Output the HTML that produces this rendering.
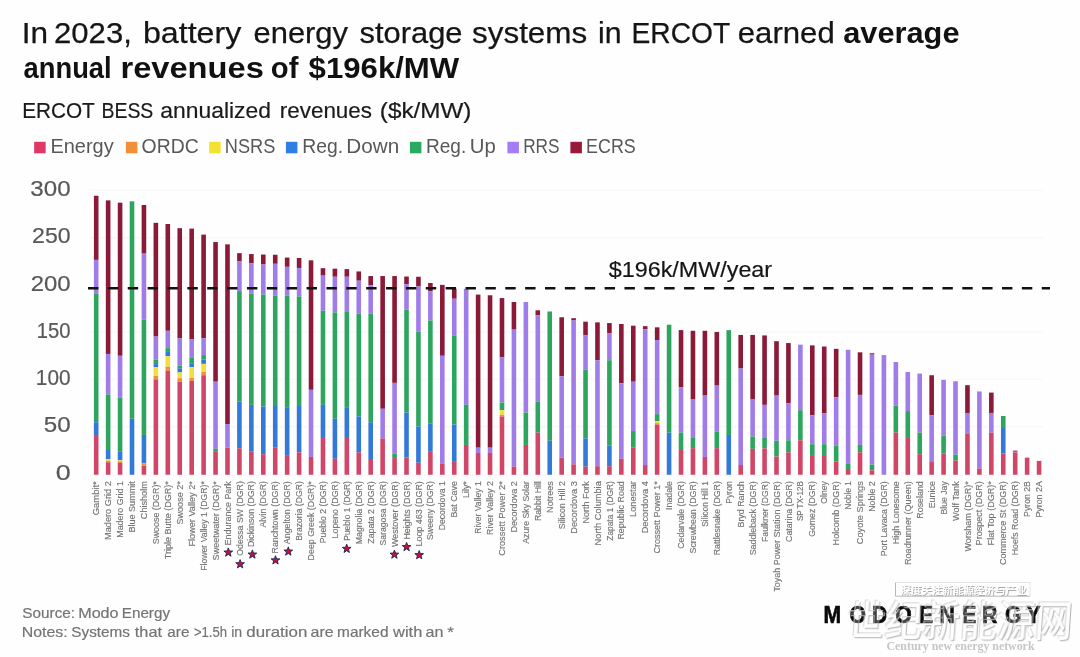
<!DOCTYPE html>
<html lang="en"><head><meta charset="utf-8"><title>ERCOT BESS annualized revenues</title>
<style>
html,body{margin:0;padding:0;background:#fefefe;}
body{width:1080px;height:657px;overflow:hidden;position:relative;font-family:"Liberation Sans","Noto Sans CJK SC",sans-serif;}
svg{position:absolute;left:0;top:0;display:block;}
#chart{position:absolute;left:0;top:0;width:1080px;height:657px;}
text{font-family:"Liberation Sans","Noto Sans CJK SC",sans-serif;white-space:pre;}
.ttl{font-size:29px;fill:#151515;stroke:#151515;stroke-width:0.25px;}
.ttlb{font-size:29px;font-weight:bold;fill:#111;}
.sub{font-size:22.3px;fill:#1a1a1a;stroke:#1a1a1a;stroke-width:0.2px;}
.leg{font-size:19.3px;fill:#585858;}
.yax{font-size:21.3px;fill:#585858;stroke:#585858;stroke-width:0.2px;}
.xl{font-size:8.95px;fill:#747474;stroke:#747474;stroke-width:0.15px;}
.src{font-size:14.8px;fill:#747474;stroke:#747474;stroke-width:0.2px;}
.ann{font-size:22.8px;fill:#151515;stroke:#151515;stroke-width:0.2px;}
.logo{font-size:23.5px;font-weight:bold;fill:#0a0a0a;stroke:#0a0a0a;stroke-width:0.7px;}
.wm{font-family:"Noto Sans CJK SC","WenQuanYi Zen Hei",sans-serif;}
.wms{font-family:"Liberation Serif",serif;font-weight:bold;font-size:12.5px;fill:#c6c6c6;}
</style></head><body><div id="chart">
<svg width="1080" height="657" viewBox="0 0 1080 657">
<rect x="0" y="0" width="1080" height="657" fill="#fefefe"/>
<text class="ttl" y="42.5" ><tspan x="21.74" textLength="26.28" lengthAdjust="spacingAndGlyphs">In</tspan> <tspan x="54.04" textLength="77.78" lengthAdjust="spacingAndGlyphs">2023,</tspan> <tspan x="142.99" textLength="98.31" lengthAdjust="spacingAndGlyphs">battery</tspan> <tspan x="253.53" textLength="94.47" lengthAdjust="spacingAndGlyphs">energy</tspan> <tspan x="359.52" textLength="102.98" lengthAdjust="spacingAndGlyphs">storage</tspan> <tspan x="472.01" textLength="115.22" lengthAdjust="spacingAndGlyphs">systems</tspan> <tspan x="598.11" textLength="23.60" lengthAdjust="spacingAndGlyphs">in</tspan> <tspan x="631.56" textLength="98.12" lengthAdjust="spacingAndGlyphs">ERCOT</tspan> <tspan x="737.78" textLength="96.97" lengthAdjust="spacingAndGlyphs">earned</tspan></text>
<text class="ttlb" y="42.5" ><tspan x="843.27" textLength="116.25" lengthAdjust="spacingAndGlyphs">average</tspan></text>
<text class="ttlb" y="78.4" ><tspan x="23.57" textLength="88.04" lengthAdjust="spacingAndGlyphs">annual</tspan> <tspan x="120.46" textLength="143.36" lengthAdjust="spacingAndGlyphs">revenues</tspan> <tspan x="270.89" textLength="27.55" lengthAdjust="spacingAndGlyphs">of</tspan> <tspan x="308.60" textLength="150.61" lengthAdjust="spacingAndGlyphs">$196k/MW</tspan></text>
<text class="sub" y="117.6" ><tspan x="22.13" textLength="72.26" lengthAdjust="spacingAndGlyphs">ERCOT</tspan> <tspan x="101.43" textLength="51.92" lengthAdjust="spacingAndGlyphs">BESS</tspan> <tspan x="160.33" textLength="110.61" lengthAdjust="spacingAndGlyphs">annualized</tspan> <tspan x="279.84" textLength="92.16" lengthAdjust="spacingAndGlyphs">revenues</tspan> <tspan x="379.84" textLength="91.61" lengthAdjust="spacingAndGlyphs">($k/MW)</tspan></text>
<rect x="34.15" y="141.8" width="11.5" height="11.5" fill="#e03767"/>
<text class="leg" y="152.9" ><tspan x="50.45" textLength="63.25" lengthAdjust="spacingAndGlyphs">Energy</tspan></text>
<rect x="125.90" y="141.8" width="11.5" height="11.5" fill="#f2903a"/>
<text class="leg" y="152.9" ><tspan x="141.60" textLength="57.04" lengthAdjust="spacingAndGlyphs">ORDC</tspan></text>
<rect x="209.15" y="141.8" width="11.5" height="11.5" fill="#f4e030"/>
<text class="leg" y="152.9" ><tspan x="224.84" textLength="50.48" lengthAdjust="spacingAndGlyphs">NSRS</tspan></text>
<rect x="285.90" y="141.8" width="11.5" height="11.5" fill="#2f7de6"/>
<text class="leg" y="152.9" ><tspan x="302.25" textLength="40.76" lengthAdjust="spacingAndGlyphs">Reg.</tspan> <tspan x="346.39" textLength="52.93" lengthAdjust="spacingAndGlyphs">Down</tspan></text>
<rect x="409.90" y="141.8" width="11.5" height="11.5" fill="#28ab60"/>
<text class="leg" y="152.9" ><tspan x="426.02" textLength="40.22" lengthAdjust="spacingAndGlyphs">Reg.</tspan> <tspan x="469.77" textLength="26.00" lengthAdjust="spacingAndGlyphs">Up</tspan></text>
<rect x="507.40" y="141.8" width="11.5" height="11.5" fill="#a47cf5"/>
<text class="leg" y="152.9" ><tspan x="523.16" textLength="36.37" lengthAdjust="spacingAndGlyphs">RRS</tspan></text>
<rect x="570.40" y="141.8" width="11.5" height="11.5" fill="#981938"/>
<text class="leg" y="152.9" ><tspan x="586.11" textLength="49.70" lengthAdjust="spacingAndGlyphs">ECRS</tspan></text>
<line x1="90" y1="475.3" x2="1043" y2="475.3" stroke="#f7f7f7" stroke-width="1.1"/>
<text class="yax" y="479.6" ><tspan x="55.79" textLength="14.95" lengthAdjust="spacingAndGlyphs">0</tspan></text>
<line x1="90" y1="426.6" x2="1043" y2="426.6" stroke="#f7f7f7" stroke-width="1.1"/>
<text class="yax" y="432.4" ><tspan x="43.79" textLength="26.85" lengthAdjust="spacingAndGlyphs">50</tspan></text>
<line x1="90" y1="379.3" x2="1043" y2="379.3" stroke="#f7f7f7" stroke-width="1.1"/>
<text class="yax" y="385.1" ><tspan x="35.84" textLength="34.69" lengthAdjust="spacingAndGlyphs">100</tspan></text>
<line x1="90" y1="332.1" x2="1043" y2="332.1" stroke="#f7f7f7" stroke-width="1.1"/>
<text class="yax" y="337.9" ><tspan x="36.78" textLength="33.73" lengthAdjust="spacingAndGlyphs">150</tspan></text>
<text class="yax" y="290.6" ><tspan x="30.68" textLength="39.96" lengthAdjust="spacingAndGlyphs">200</tspan></text>
<line x1="90" y1="237.6" x2="1043" y2="237.6" stroke="#f7f7f7" stroke-width="1.1"/>
<text class="yax" y="243.3" ><tspan x="32.12" textLength="38.49" lengthAdjust="spacingAndGlyphs">250</tspan></text>
<line x1="90" y1="190.3" x2="1043" y2="190.3" stroke="#f7f7f7" stroke-width="1.1"/>
<text class="yax" y="196.1" ><tspan x="30.39" textLength="40.25" lengthAdjust="spacingAndGlyphs">300</tspan></text>
<rect x="93.90" y="195.74" width="4.6" height="64.12" fill="#8b1a38"/>
<rect x="93.90" y="259.86" width="4.6" height="34.03" fill="#a07ce9"/>
<rect x="93.90" y="293.89" width="4.6" height="128.33" fill="#2ea55f"/>
<rect x="93.90" y="422.22" width="4.6" height="12.73" fill="#3279d8"/>
<rect x="93.90" y="434.95" width="4.6" height="39.80" fill="#d04669"/>
<rect x="105.84" y="200.37" width="4.6" height="153.56" fill="#8b1a38"/>
<rect x="105.84" y="353.94" width="4.6" height="40.51" fill="#a07ce9"/>
<rect x="105.84" y="394.44" width="4.6" height="55.56" fill="#2ea55f"/>
<rect x="105.84" y="450.00" width="4.6" height="9.26" fill="#3279d8"/>
<rect x="105.84" y="459.26" width="4.6" height="1.62" fill="#f2df3a"/>
<rect x="105.84" y="460.88" width="4.6" height="1.39" fill="#f0903c"/>
<rect x="105.84" y="462.27" width="4.6" height="12.49" fill="#d04669"/>
<rect x="117.77" y="202.69" width="4.6" height="153.10" fill="#8b1a38"/>
<rect x="117.77" y="355.79" width="4.6" height="41.67" fill="#a07ce9"/>
<rect x="117.77" y="397.45" width="4.6" height="54.40" fill="#2ea55f"/>
<rect x="117.77" y="451.85" width="4.6" height="8.56" fill="#3279d8"/>
<rect x="117.77" y="460.42" width="4.6" height="0.93" fill="#f2df3a"/>
<rect x="117.77" y="461.34" width="4.6" height="1.62" fill="#f0903c"/>
<rect x="117.77" y="462.96" width="4.6" height="11.79" fill="#d04669"/>
<rect x="129.70" y="201.30" width="4.6" height="217.45" fill="#2ea55f"/>
<rect x="129.70" y="418.75" width="4.6" height="56.01" fill="#3279d8"/>
<rect x="141.64" y="205.00" width="4.6" height="48.61" fill="#8b1a38"/>
<rect x="141.64" y="253.61" width="4.6" height="66.20" fill="#a07ce9"/>
<rect x="141.64" y="319.81" width="4.6" height="115.14" fill="#2ea55f"/>
<rect x="141.64" y="434.95" width="4.6" height="28.47" fill="#3279d8"/>
<rect x="141.64" y="463.43" width="4.6" height="2.31" fill="#f0903c"/>
<rect x="141.64" y="465.74" width="4.6" height="9.01" fill="#d04669"/>
<rect x="153.57" y="222.82" width="4.6" height="113.75" fill="#8b1a38"/>
<rect x="153.57" y="336.57" width="4.6" height="23.15" fill="#a07ce9"/>
<rect x="153.57" y="359.72" width="4.6" height="4.40" fill="#2ea55f"/>
<rect x="153.57" y="364.12" width="4.6" height="3.01" fill="#3279d8"/>
<rect x="153.57" y="367.13" width="4.6" height="8.80" fill="#f2df3a"/>
<rect x="153.57" y="375.93" width="4.6" height="3.47" fill="#f0903c"/>
<rect x="153.57" y="379.40" width="4.6" height="95.36" fill="#d04669"/>
<rect x="165.51" y="223.98" width="4.6" height="106.81" fill="#8b1a38"/>
<rect x="165.51" y="330.79" width="4.6" height="17.36" fill="#a07ce9"/>
<rect x="165.51" y="348.15" width="4.6" height="3.01" fill="#2ea55f"/>
<rect x="165.51" y="351.16" width="4.6" height="5.09" fill="#3279d8"/>
<rect x="165.51" y="356.25" width="4.6" height="10.42" fill="#f2df3a"/>
<rect x="165.51" y="366.67" width="4.6" height="4.17" fill="#f0903c"/>
<rect x="165.51" y="370.83" width="4.6" height="103.92" fill="#d04669"/>
<rect x="177.44" y="228.15" width="4.6" height="110.28" fill="#8b1a38"/>
<rect x="177.44" y="338.43" width="4.6" height="27.08" fill="#a07ce9"/>
<rect x="177.44" y="365.51" width="4.6" height="2.78" fill="#2ea55f"/>
<rect x="177.44" y="368.29" width="4.6" height="4.17" fill="#3279d8"/>
<rect x="177.44" y="372.45" width="4.6" height="5.79" fill="#f2df3a"/>
<rect x="177.44" y="378.24" width="4.6" height="3.47" fill="#f0903c"/>
<rect x="177.44" y="381.71" width="4.6" height="93.04" fill="#d04669"/>
<rect x="189.38" y="228.61" width="4.6" height="110.74" fill="#8b1a38"/>
<rect x="189.38" y="339.35" width="4.6" height="18.06" fill="#a07ce9"/>
<rect x="189.38" y="357.41" width="4.6" height="5.79" fill="#2ea55f"/>
<rect x="189.38" y="363.19" width="4.6" height="3.94" fill="#3279d8"/>
<rect x="189.38" y="367.13" width="4.6" height="10.65" fill="#f2df3a"/>
<rect x="189.38" y="377.78" width="4.6" height="3.24" fill="#f0903c"/>
<rect x="189.38" y="381.02" width="4.6" height="93.74" fill="#d04669"/>
<rect x="201.31" y="234.63" width="4.6" height="103.56" fill="#8b1a38"/>
<rect x="201.31" y="338.19" width="4.6" height="16.90" fill="#a07ce9"/>
<rect x="201.31" y="355.09" width="4.6" height="4.40" fill="#2ea55f"/>
<rect x="201.31" y="359.49" width="4.6" height="4.40" fill="#3279d8"/>
<rect x="201.31" y="363.89" width="4.6" height="8.10" fill="#f2df3a"/>
<rect x="201.31" y="371.99" width="4.6" height="3.24" fill="#f0903c"/>
<rect x="201.31" y="375.23" width="4.6" height="99.52" fill="#d04669"/>
<rect x="213.25" y="242.04" width="4.6" height="139.68" fill="#8b1a38"/>
<rect x="213.25" y="381.71" width="4.6" height="67.13" fill="#a07ce9"/>
<rect x="213.25" y="448.84" width="4.6" height="3.01" fill="#2ea55f"/>
<rect x="213.25" y="451.85" width="4.6" height="22.90" fill="#d04669"/>
<rect x="225.19" y="244.35" width="4.6" height="179.72" fill="#8b1a38"/>
<rect x="225.19" y="424.07" width="4.6" height="23.61" fill="#a07ce9"/>
<rect x="225.19" y="447.69" width="4.6" height="27.07" fill="#d04669"/>
<rect x="237.12" y="253.15" width="4.6" height="8.33" fill="#8b1a38"/>
<rect x="237.12" y="261.48" width="4.6" height="29.63" fill="#a07ce9"/>
<rect x="237.12" y="291.11" width="4.6" height="110.28" fill="#2ea55f"/>
<rect x="237.12" y="401.39" width="4.6" height="46.99" fill="#3279d8"/>
<rect x="237.12" y="448.38" width="4.6" height="26.38" fill="#d04669"/>
<rect x="249.06" y="254.07" width="4.6" height="9.26" fill="#8b1a38"/>
<rect x="249.06" y="263.33" width="4.6" height="30.56" fill="#a07ce9"/>
<rect x="249.06" y="293.89" width="4.6" height="110.97" fill="#2ea55f"/>
<rect x="249.06" y="404.86" width="4.6" height="46.30" fill="#3279d8"/>
<rect x="249.06" y="451.16" width="4.6" height="23.60" fill="#d04669"/>
<rect x="260.99" y="254.54" width="4.6" height="9.95" fill="#8b1a38"/>
<rect x="260.99" y="264.49" width="4.6" height="30.09" fill="#a07ce9"/>
<rect x="260.99" y="294.58" width="4.6" height="111.90" fill="#2ea55f"/>
<rect x="260.99" y="406.48" width="4.6" height="47.69" fill="#3279d8"/>
<rect x="260.99" y="454.17" width="4.6" height="20.59" fill="#d04669"/>
<rect x="272.93" y="254.77" width="4.6" height="9.03" fill="#8b1a38"/>
<rect x="272.93" y="263.80" width="4.6" height="31.94" fill="#a07ce9"/>
<rect x="272.93" y="295.74" width="4.6" height="110.28" fill="#2ea55f"/>
<rect x="272.93" y="406.02" width="4.6" height="41.20" fill="#3279d8"/>
<rect x="272.93" y="447.22" width="4.6" height="27.53" fill="#d04669"/>
<rect x="284.86" y="257.55" width="4.6" height="9.26" fill="#8b1a38"/>
<rect x="284.86" y="266.81" width="4.6" height="28.94" fill="#a07ce9"/>
<rect x="284.86" y="295.74" width="4.6" height="112.13" fill="#2ea55f"/>
<rect x="284.86" y="407.87" width="4.6" height="47.22" fill="#3279d8"/>
<rect x="284.86" y="455.09" width="4.6" height="19.66" fill="#d04669"/>
<rect x="296.80" y="258.01" width="4.6" height="9.95" fill="#8b1a38"/>
<rect x="296.80" y="267.96" width="4.6" height="28.47" fill="#a07ce9"/>
<rect x="296.80" y="296.44" width="4.6" height="109.58" fill="#2ea55f"/>
<rect x="296.80" y="406.02" width="4.6" height="46.30" fill="#3279d8"/>
<rect x="296.80" y="452.31" width="4.6" height="22.44" fill="#d04669"/>
<rect x="308.73" y="260.32" width="4.6" height="129.49" fill="#8b1a38"/>
<rect x="308.73" y="389.81" width="4.6" height="67.13" fill="#a07ce9"/>
<rect x="308.73" y="456.94" width="4.6" height="17.81" fill="#d04669"/>
<rect x="320.67" y="268.19" width="4.6" height="7.41" fill="#8b1a38"/>
<rect x="320.67" y="275.60" width="4.6" height="35.19" fill="#a07ce9"/>
<rect x="320.67" y="310.79" width="4.6" height="94.07" fill="#2ea55f"/>
<rect x="320.67" y="404.86" width="4.6" height="33.10" fill="#3279d8"/>
<rect x="320.67" y="437.96" width="4.6" height="36.79" fill="#d04669"/>
<rect x="332.60" y="268.66" width="4.6" height="8.10" fill="#8b1a38"/>
<rect x="332.60" y="276.76" width="4.6" height="35.65" fill="#a07ce9"/>
<rect x="332.60" y="312.41" width="4.6" height="106.34" fill="#2ea55f"/>
<rect x="332.60" y="418.75" width="4.6" height="40.05" fill="#3279d8"/>
<rect x="332.60" y="458.80" width="4.6" height="15.96" fill="#d04669"/>
<rect x="344.54" y="269.12" width="4.6" height="7.64" fill="#8b1a38"/>
<rect x="344.54" y="276.76" width="4.6" height="35.19" fill="#a07ce9"/>
<rect x="344.54" y="311.94" width="4.6" height="95.23" fill="#2ea55f"/>
<rect x="344.54" y="407.18" width="4.6" height="30.79" fill="#3279d8"/>
<rect x="344.54" y="437.96" width="4.6" height="36.79" fill="#d04669"/>
<rect x="356.47" y="271.44" width="4.6" height="9.26" fill="#8b1a38"/>
<rect x="356.47" y="280.69" width="4.6" height="33.10" fill="#a07ce9"/>
<rect x="356.47" y="313.80" width="4.6" height="102.64" fill="#2ea55f"/>
<rect x="356.47" y="416.44" width="4.6" height="35.88" fill="#3279d8"/>
<rect x="356.47" y="452.31" width="4.6" height="22.44" fill="#d04669"/>
<rect x="368.40" y="276.06" width="4.6" height="9.26" fill="#8b1a38"/>
<rect x="368.40" y="285.32" width="4.6" height="28.47" fill="#a07ce9"/>
<rect x="368.40" y="313.80" width="4.6" height="108.43" fill="#2ea55f"/>
<rect x="368.40" y="422.22" width="4.6" height="37.73" fill="#3279d8"/>
<rect x="368.40" y="459.95" width="4.6" height="14.80" fill="#d04669"/>
<rect x="380.34" y="276.06" width="4.6" height="132.73" fill="#8b1a38"/>
<rect x="380.34" y="408.80" width="4.6" height="29.63" fill="#a07ce9"/>
<rect x="380.34" y="438.43" width="4.6" height="36.33" fill="#d04669"/>
<rect x="392.27" y="276.06" width="4.6" height="106.81" fill="#8b1a38"/>
<rect x="392.27" y="382.87" width="4.6" height="70.60" fill="#a07ce9"/>
<rect x="392.27" y="453.47" width="4.6" height="4.63" fill="#2ea55f"/>
<rect x="392.27" y="458.10" width="4.6" height="16.65" fill="#d04669"/>
<rect x="404.21" y="276.53" width="4.6" height="7.64" fill="#8b1a38"/>
<rect x="404.21" y="284.17" width="4.6" height="25.46" fill="#a07ce9"/>
<rect x="404.21" y="309.63" width="4.6" height="102.87" fill="#2ea55f"/>
<rect x="404.21" y="412.50" width="4.6" height="44.91" fill="#3279d8"/>
<rect x="404.21" y="457.41" width="4.6" height="17.35" fill="#d04669"/>
<rect x="416.14" y="276.76" width="4.6" height="9.72" fill="#8b1a38"/>
<rect x="416.14" y="286.48" width="4.6" height="45.00" fill="#a07ce9"/>
<rect x="416.14" y="331.48" width="4.6" height="94.91" fill="#2ea55f"/>
<rect x="416.14" y="426.39" width="4.6" height="36.34" fill="#3279d8"/>
<rect x="416.14" y="462.73" width="4.6" height="12.02" fill="#d04669"/>
<rect x="428.08" y="283.01" width="4.6" height="8.10" fill="#8b1a38"/>
<rect x="428.08" y="291.11" width="4.6" height="29.40" fill="#a07ce9"/>
<rect x="428.08" y="320.51" width="4.6" height="102.87" fill="#2ea55f"/>
<rect x="428.08" y="423.38" width="4.6" height="28.47" fill="#3279d8"/>
<rect x="428.08" y="451.85" width="4.6" height="22.90" fill="#d04669"/>
<rect x="440.01" y="284.86" width="4.6" height="70.93" fill="#8b1a38"/>
<rect x="440.01" y="355.79" width="4.6" height="108.10" fill="#a07ce9"/>
<rect x="440.01" y="463.89" width="4.6" height="10.87" fill="#d04669"/>
<rect x="451.95" y="288.80" width="4.6" height="9.95" fill="#8b1a38"/>
<rect x="451.95" y="298.75" width="4.6" height="36.67" fill="#a07ce9"/>
<rect x="451.95" y="335.42" width="4.6" height="89.12" fill="#2ea55f"/>
<rect x="451.95" y="424.54" width="4.6" height="36.57" fill="#3279d8"/>
<rect x="451.95" y="461.11" width="4.6" height="13.64" fill="#d04669"/>
<rect x="463.88" y="288.80" width="4.6" height="116.06" fill="#a07ce9"/>
<rect x="463.88" y="404.86" width="4.6" height="40.05" fill="#2ea55f"/>
<rect x="463.88" y="444.91" width="4.6" height="29.85" fill="#d04669"/>
<rect x="475.82" y="294.58" width="4.6" height="153.10" fill="#8b1a38"/>
<rect x="475.82" y="447.69" width="4.6" height="5.32" fill="#a07ce9"/>
<rect x="475.82" y="453.01" width="4.6" height="21.75" fill="#d04669"/>
<rect x="487.75" y="295.28" width="4.6" height="152.41" fill="#8b1a38"/>
<rect x="487.75" y="447.69" width="4.6" height="5.32" fill="#a07ce9"/>
<rect x="487.75" y="453.01" width="4.6" height="21.75" fill="#d04669"/>
<rect x="499.69" y="298.06" width="4.6" height="59.35" fill="#8b1a38"/>
<rect x="499.69" y="357.41" width="4.6" height="45.14" fill="#a07ce9"/>
<rect x="499.69" y="402.55" width="4.6" height="7.64" fill="#2ea55f"/>
<rect x="499.69" y="410.19" width="4.6" height="4.63" fill="#f2df3a"/>
<rect x="499.69" y="414.81" width="4.6" height="1.62" fill="#f0903c"/>
<rect x="499.69" y="416.44" width="4.6" height="58.32" fill="#d04669"/>
<rect x="511.63" y="301.99" width="4.6" height="27.64" fill="#8b1a38"/>
<rect x="511.63" y="329.63" width="4.6" height="137.04" fill="#a07ce9"/>
<rect x="511.63" y="466.67" width="4.6" height="8.09" fill="#d04669"/>
<rect x="523.56" y="301.99" width="4.6" height="110.51" fill="#a07ce9"/>
<rect x="523.56" y="412.50" width="4.6" height="32.41" fill="#2ea55f"/>
<rect x="523.56" y="444.91" width="4.6" height="29.85" fill="#d04669"/>
<rect x="535.50" y="310.32" width="4.6" height="5.09" fill="#8b1a38"/>
<rect x="535.50" y="315.42" width="4.6" height="85.97" fill="#a07ce9"/>
<rect x="535.50" y="401.39" width="4.6" height="31.25" fill="#2ea55f"/>
<rect x="535.50" y="432.64" width="4.6" height="42.12" fill="#d04669"/>
<rect x="547.43" y="311.48" width="4.6" height="129.26" fill="#2ea55f"/>
<rect x="547.43" y="440.74" width="4.6" height="34.01" fill="#3279d8"/>
<rect x="559.37" y="317.27" width="4.6" height="59.12" fill="#8b1a38"/>
<rect x="559.37" y="376.39" width="4.6" height="81.25" fill="#a07ce9"/>
<rect x="559.37" y="457.64" width="4.6" height="17.12" fill="#d04669"/>
<rect x="571.30" y="318.19" width="4.6" height="2.31" fill="#8b1a38"/>
<rect x="571.30" y="320.51" width="4.6" height="143.84" fill="#a07ce9"/>
<rect x="571.30" y="464.35" width="4.6" height="10.40" fill="#d04669"/>
<rect x="583.24" y="321.67" width="4.6" height="13.75" fill="#8b1a38"/>
<rect x="583.24" y="335.42" width="4.6" height="34.03" fill="#a07ce9"/>
<rect x="583.24" y="369.44" width="4.6" height="68.98" fill="#2ea55f"/>
<rect x="583.24" y="438.43" width="4.6" height="28.24" fill="#3279d8"/>
<rect x="583.24" y="466.67" width="4.6" height="8.09" fill="#d04669"/>
<rect x="595.17" y="322.36" width="4.6" height="37.82" fill="#8b1a38"/>
<rect x="595.17" y="360.19" width="4.6" height="106.02" fill="#a07ce9"/>
<rect x="595.17" y="466.20" width="4.6" height="8.55" fill="#d04669"/>
<rect x="607.11" y="323.06" width="4.6" height="10.05" fill="#8b1a38"/>
<rect x="607.11" y="333.10" width="4.6" height="27.08" fill="#a07ce9"/>
<rect x="607.11" y="360.19" width="4.6" height="85.19" fill="#2ea55f"/>
<rect x="607.11" y="445.37" width="4.6" height="20.83" fill="#3279d8"/>
<rect x="607.11" y="466.20" width="4.6" height="8.55" fill="#d04669"/>
<rect x="619.04" y="323.98" width="4.6" height="59.35" fill="#8b1a38"/>
<rect x="619.04" y="383.33" width="4.6" height="75.46" fill="#a07ce9"/>
<rect x="619.04" y="458.80" width="4.6" height="15.96" fill="#d04669"/>
<rect x="630.98" y="325.69" width="4.6" height="56.02" fill="#8b1a38"/>
<rect x="630.98" y="381.71" width="4.6" height="49.31" fill="#a07ce9"/>
<rect x="630.98" y="431.02" width="4.6" height="16.67" fill="#2ea55f"/>
<rect x="630.98" y="447.69" width="4.6" height="27.07" fill="#d04669"/>
<rect x="642.91" y="326.16" width="4.6" height="3.01" fill="#8b1a38"/>
<rect x="642.91" y="329.17" width="4.6" height="135.88" fill="#a07ce9"/>
<rect x="642.91" y="465.05" width="4.6" height="9.71" fill="#d04669"/>
<rect x="654.85" y="327.31" width="4.6" height="12.73" fill="#8b1a38"/>
<rect x="654.85" y="340.05" width="4.6" height="74.07" fill="#a07ce9"/>
<rect x="654.85" y="414.12" width="4.6" height="6.94" fill="#2ea55f"/>
<rect x="654.85" y="421.06" width="4.6" height="2.08" fill="#f2df3a"/>
<rect x="654.85" y="423.15" width="4.6" height="1.39" fill="#f0903c"/>
<rect x="654.85" y="424.54" width="4.6" height="50.22" fill="#d04669"/>
<rect x="666.78" y="324.68" width="4.6" height="107.96" fill="#2ea55f"/>
<rect x="666.78" y="432.64" width="4.6" height="42.12" fill="#3279d8"/>
<rect x="678.72" y="330.09" width="4.6" height="56.94" fill="#8b1a38"/>
<rect x="678.72" y="387.04" width="4.6" height="45.60" fill="#a07ce9"/>
<rect x="678.72" y="432.64" width="4.6" height="17.36" fill="#2ea55f"/>
<rect x="678.72" y="450.00" width="4.6" height="24.76" fill="#d04669"/>
<rect x="690.65" y="330.79" width="4.6" height="68.75" fill="#8b1a38"/>
<rect x="690.65" y="399.54" width="4.6" height="37.73" fill="#a07ce9"/>
<rect x="690.65" y="437.27" width="4.6" height="10.88" fill="#2ea55f"/>
<rect x="690.65" y="448.15" width="4.6" height="26.61" fill="#d04669"/>
<rect x="702.59" y="330.79" width="4.6" height="64.81" fill="#8b1a38"/>
<rect x="702.59" y="395.60" width="4.6" height="61.34" fill="#a07ce9"/>
<rect x="702.59" y="456.94" width="4.6" height="17.81" fill="#d04669"/>
<rect x="714.52" y="331.94" width="4.6" height="53.70" fill="#8b1a38"/>
<rect x="714.52" y="385.65" width="4.6" height="45.83" fill="#a07ce9"/>
<rect x="714.52" y="431.48" width="4.6" height="16.67" fill="#2ea55f"/>
<rect x="714.52" y="448.15" width="4.6" height="26.61" fill="#d04669"/>
<rect x="726.46" y="330.09" width="4.6" height="104.86" fill="#2ea55f"/>
<rect x="726.46" y="434.95" width="4.6" height="39.80" fill="#3279d8"/>
<rect x="738.39" y="334.95" width="4.6" height="33.56" fill="#8b1a38"/>
<rect x="738.39" y="368.52" width="4.6" height="96.53" fill="#a07ce9"/>
<rect x="738.39" y="465.05" width="4.6" height="9.71" fill="#d04669"/>
<rect x="750.33" y="334.95" width="4.6" height="64.58" fill="#8b1a38"/>
<rect x="750.33" y="399.54" width="4.6" height="37.04" fill="#a07ce9"/>
<rect x="750.33" y="436.57" width="4.6" height="12.27" fill="#2ea55f"/>
<rect x="750.33" y="448.84" width="4.6" height="25.91" fill="#d04669"/>
<rect x="762.26" y="335.42" width="4.6" height="69.44" fill="#8b1a38"/>
<rect x="762.26" y="404.86" width="4.6" height="32.41" fill="#a07ce9"/>
<rect x="762.26" y="437.27" width="4.6" height="11.11" fill="#2ea55f"/>
<rect x="762.26" y="448.38" width="4.6" height="26.38" fill="#d04669"/>
<rect x="774.20" y="341.20" width="4.6" height="54.40" fill="#8b1a38"/>
<rect x="774.20" y="395.60" width="4.6" height="45.14" fill="#a07ce9"/>
<rect x="774.20" y="440.74" width="4.6" height="15.74" fill="#2ea55f"/>
<rect x="774.20" y="456.48" width="4.6" height="18.27" fill="#d04669"/>
<rect x="786.13" y="343.06" width="4.6" height="60.19" fill="#8b1a38"/>
<rect x="786.13" y="403.24" width="4.6" height="37.04" fill="#a07ce9"/>
<rect x="786.13" y="440.28" width="4.6" height="12.04" fill="#2ea55f"/>
<rect x="786.13" y="452.31" width="4.6" height="22.44" fill="#d04669"/>
<rect x="798.07" y="344.68" width="4.6" height="65.51" fill="#a07ce9"/>
<rect x="798.07" y="410.19" width="4.6" height="30.09" fill="#2ea55f"/>
<rect x="798.07" y="440.28" width="4.6" height="34.48" fill="#d04669"/>
<rect x="810.00" y="345.37" width="4.6" height="69.91" fill="#8b1a38"/>
<rect x="810.00" y="415.28" width="4.6" height="28.94" fill="#a07ce9"/>
<rect x="810.00" y="444.21" width="4.6" height="10.88" fill="#2ea55f"/>
<rect x="810.00" y="455.09" width="4.6" height="19.66" fill="#d04669"/>
<rect x="821.94" y="346.53" width="4.6" height="66.90" fill="#8b1a38"/>
<rect x="821.94" y="413.43" width="4.6" height="30.79" fill="#a07ce9"/>
<rect x="821.94" y="444.21" width="4.6" height="10.88" fill="#2ea55f"/>
<rect x="821.94" y="455.09" width="4.6" height="19.66" fill="#d04669"/>
<rect x="833.87" y="348.84" width="4.6" height="48.38" fill="#8b1a38"/>
<rect x="833.87" y="397.22" width="4.6" height="48.61" fill="#a07ce9"/>
<rect x="833.87" y="445.83" width="4.6" height="15.74" fill="#2ea55f"/>
<rect x="833.87" y="461.57" width="4.6" height="13.18" fill="#d04669"/>
<rect x="845.81" y="349.77" width="4.6" height="114.12" fill="#a07ce9"/>
<rect x="845.81" y="463.89" width="4.6" height="5.09" fill="#2ea55f"/>
<rect x="845.81" y="468.98" width="4.6" height="5.77" fill="#d04669"/>
<rect x="857.74" y="352.31" width="4.6" height="42.59" fill="#8b1a38"/>
<rect x="857.74" y="394.91" width="4.6" height="50.00" fill="#a07ce9"/>
<rect x="857.74" y="444.91" width="4.6" height="7.41" fill="#2ea55f"/>
<rect x="857.74" y="452.31" width="4.6" height="22.44" fill="#d04669"/>
<rect x="869.68" y="353.24" width="4.6" height="1.39" fill="#8b1a38"/>
<rect x="869.68" y="354.63" width="4.6" height="109.95" fill="#a07ce9"/>
<rect x="869.68" y="464.58" width="4.6" height="5.79" fill="#2ea55f"/>
<rect x="869.68" y="470.37" width="4.6" height="4.39" fill="#d04669"/>
<rect x="881.61" y="355.09" width="4.6" height="119.66" fill="#a07ce9"/>
<rect x="893.55" y="362.04" width="4.6" height="43.52" fill="#a07ce9"/>
<rect x="893.55" y="405.56" width="4.6" height="27.08" fill="#2ea55f"/>
<rect x="893.55" y="432.64" width="4.6" height="42.12" fill="#d04669"/>
<rect x="905.48" y="371.99" width="4.6" height="39.12" fill="#a07ce9"/>
<rect x="905.48" y="411.11" width="4.6" height="26.85" fill="#2ea55f"/>
<rect x="905.48" y="437.96" width="4.6" height="36.79" fill="#d04669"/>
<rect x="917.42" y="373.61" width="4.6" height="59.03" fill="#a07ce9"/>
<rect x="917.42" y="432.64" width="4.6" height="21.53" fill="#2ea55f"/>
<rect x="917.42" y="454.17" width="4.6" height="20.59" fill="#d04669"/>
<rect x="929.35" y="375.23" width="4.6" height="40.05" fill="#8b1a38"/>
<rect x="929.35" y="415.28" width="4.6" height="46.76" fill="#a07ce9"/>
<rect x="929.35" y="462.04" width="4.6" height="12.72" fill="#d04669"/>
<rect x="941.29" y="379.86" width="4.6" height="55.79" fill="#a07ce9"/>
<rect x="941.29" y="435.65" width="4.6" height="17.82" fill="#2ea55f"/>
<rect x="941.29" y="453.47" width="4.6" height="21.28" fill="#d04669"/>
<rect x="953.22" y="381.25" width="4.6" height="73.38" fill="#a07ce9"/>
<rect x="953.22" y="454.63" width="4.6" height="5.79" fill="#2ea55f"/>
<rect x="953.22" y="460.42" width="4.6" height="14.34" fill="#d04669"/>
<rect x="965.16" y="385.19" width="4.6" height="27.78" fill="#8b1a38"/>
<rect x="965.16" y="412.96" width="4.6" height="20.37" fill="#a07ce9"/>
<rect x="965.16" y="433.33" width="4.6" height="41.42" fill="#d04669"/>
<rect x="977.09" y="391.44" width="4.6" height="77.08" fill="#a07ce9"/>
<rect x="977.09" y="468.52" width="4.6" height="6.24" fill="#d04669"/>
<rect x="989.03" y="392.59" width="4.6" height="20.37" fill="#8b1a38"/>
<rect x="989.03" y="412.96" width="4.6" height="19.68" fill="#a07ce9"/>
<rect x="989.03" y="432.64" width="4.6" height="42.12" fill="#d04669"/>
<rect x="1000.96" y="415.97" width="4.6" height="12.04" fill="#2ea55f"/>
<rect x="1000.96" y="428.01" width="4.6" height="25.46" fill="#3279d8"/>
<rect x="1000.96" y="453.47" width="4.6" height="21.28" fill="#d04669"/>
<rect x="1012.90" y="450.46" width="4.6" height="2.08" fill="#b85c7e"/>
<rect x="1012.90" y="452.55" width="4.6" height="22.21" fill="#d04669"/>
<rect x="1024.83" y="457.64" width="4.6" height="17.12" fill="#d04669"/>
<rect x="1036.77" y="460.88" width="4.6" height="13.88" fill="#d04669"/>
<line x1="88" y1="288.3" x2="1050" y2="288.3" stroke="#111" stroke-width="2.6" stroke-dasharray="10.4 9.47"/>
<text class="ann" y="276.9" ><tspan x="608.80" textLength="163.30" lengthAdjust="spacingAndGlyphs">$196k/MW/year</tspan></text>
<text class="xl" transform="translate(99.30 481.2) rotate(-90)" x="-34.1" textLength="34.1" lengthAdjust="spacingAndGlyphs">Gambit*</text>
<text class="xl" transform="translate(111.23 481.2) rotate(-90)" x="-58.8" textLength="58.8" lengthAdjust="spacingAndGlyphs">Madero Grid 2</text>
<text class="xl" transform="translate(123.17 481.2) rotate(-90)" x="-56.5" textLength="56.5" lengthAdjust="spacingAndGlyphs">Madero Grid 1</text>
<text class="xl" transform="translate(135.10 481.2) rotate(-90)" x="-51.4" textLength="51.4" lengthAdjust="spacingAndGlyphs">Blue Summit</text>
<text class="xl" transform="translate(147.04 481.2) rotate(-90)" x="-38.0" textLength="38.0" lengthAdjust="spacingAndGlyphs">Chisholm</text>
<text class="xl" transform="translate(158.97 481.2) rotate(-90)" x="-63.0" textLength="63.0" lengthAdjust="spacingAndGlyphs">Swoose (DGR)*</text>
<text class="xl" transform="translate(170.91 481.2) rotate(-90)" x="-78.0" textLength="78.0" lengthAdjust="spacingAndGlyphs">Triple Butte (DGR)*</text>
<text class="xl" transform="translate(182.84 481.2) rotate(-90)" x="-43.3" textLength="43.3" lengthAdjust="spacingAndGlyphs">Swoose 2*</text>
<text class="xl" transform="translate(194.78 481.2) rotate(-90)" x="-65.3" textLength="65.3" lengthAdjust="spacingAndGlyphs">Flower Valley 2*</text>
<text class="xl" transform="translate(206.72 481.2) rotate(-90)" x="-89.6" textLength="89.6" lengthAdjust="spacingAndGlyphs">Flower Valley 1 (DGR)*</text>
<text class="xl" transform="translate(218.65 481.2) rotate(-90)" x="-79.2" textLength="79.2" lengthAdjust="spacingAndGlyphs">Sweetwater (DGR)*</text>
<text class="xl" transform="translate(230.59 481.2) rotate(-90)" x="-64.2" textLength="64.2" lengthAdjust="spacingAndGlyphs">Endurance Park</text>
<text class="xl" transform="translate(242.52 481.2) rotate(-90)" x="-74.6" textLength="74.6" lengthAdjust="spacingAndGlyphs">Odessa SW (DGR)</text>
<text class="xl" transform="translate(254.46 481.2) rotate(-90)" x="-65.8" textLength="65.8" lengthAdjust="spacingAndGlyphs">Dickinson (DGR)</text>
<text class="xl" transform="translate(266.39 481.2) rotate(-90)" x="-46.3" textLength="46.3" lengthAdjust="spacingAndGlyphs">Alvin (DGR)</text>
<text class="xl" transform="translate(278.33 481.2) rotate(-90)" x="-72.3" textLength="72.3" lengthAdjust="spacingAndGlyphs">Ranchtown (DGR)</text>
<text class="xl" transform="translate(290.26 481.2) rotate(-90)" x="-63.0" textLength="63.0" lengthAdjust="spacingAndGlyphs">Angelton (DGR)</text>
<text class="xl" transform="translate(302.20 481.2) rotate(-90)" x="-59.5" textLength="59.5" lengthAdjust="spacingAndGlyphs">Brazoria (DGR)</text>
<text class="xl" transform="translate(314.13 481.2) rotate(-90)" x="-79.2" textLength="79.2" lengthAdjust="spacingAndGlyphs">Deep Greek (DGR)*</text>
<text class="xl" transform="translate(326.07 481.2) rotate(-90)" x="-62.1" textLength="62.1" lengthAdjust="spacingAndGlyphs">Pueblo 2 (DGR)</text>
<text class="xl" transform="translate(338.00 481.2) rotate(-90)" x="-57.2" textLength="57.2" lengthAdjust="spacingAndGlyphs">Lopeno (DGR)</text>
<text class="xl" transform="translate(349.94 481.2) rotate(-90)" x="-59.5" textLength="59.5" lengthAdjust="spacingAndGlyphs">Pueblo 1 (DGR)</text>
<text class="xl" transform="translate(361.87 481.2) rotate(-90)" x="-63.0" textLength="63.0" lengthAdjust="spacingAndGlyphs">Magnolia (DGR)</text>
<text class="xl" transform="translate(373.81 481.2) rotate(-90)" x="-62.5" textLength="62.5" lengthAdjust="spacingAndGlyphs">Zapata 2 (DGR)</text>
<text class="xl" transform="translate(385.74 481.2) rotate(-90)" x="-64.2" textLength="64.2" lengthAdjust="spacingAndGlyphs">Saragosa (DGR)</text>
<text class="xl" transform="translate(397.68 481.2) rotate(-90)" x="-65.8" textLength="65.8" lengthAdjust="spacingAndGlyphs">Westover (DGR)</text>
<text class="xl" transform="translate(409.61 481.2) rotate(-90)" x="-58.4" textLength="58.4" lengthAdjust="spacingAndGlyphs">Heights (DGR)</text>
<text class="xl" transform="translate(421.55 481.2) rotate(-90)" x="-65.3" textLength="65.3" lengthAdjust="spacingAndGlyphs">Loop 463 (DGR)</text>
<text class="xl" transform="translate(433.48 481.2) rotate(-90)" x="-58.8" textLength="58.8" lengthAdjust="spacingAndGlyphs">Sweeny (DGR)</text>
<text class="xl" transform="translate(445.42 481.2) rotate(-90)" x="-49.1" textLength="49.1" lengthAdjust="spacingAndGlyphs">Decordova 1</text>
<text class="xl" transform="translate(457.35 481.2) rotate(-90)" x="-36.4" textLength="36.4" lengthAdjust="spacingAndGlyphs">Bat Cave</text>
<text class="xl" transform="translate(469.29 481.2) rotate(-90)" x="-16.7" textLength="16.7" lengthAdjust="spacingAndGlyphs">Lily*</text>
<text class="xl" transform="translate(481.22 481.2) rotate(-90)" x="-52.6" textLength="52.6" lengthAdjust="spacingAndGlyphs">River Valley 1</text>
<text class="xl" transform="translate(493.16 481.2) rotate(-90)" x="-53.7" textLength="53.7" lengthAdjust="spacingAndGlyphs">River Valley 2</text>
<text class="xl" transform="translate(505.09 481.2) rotate(-90)" x="-74.6" textLength="74.6" lengthAdjust="spacingAndGlyphs">Crossett Power 2*</text>
<text class="xl" transform="translate(517.03 481.2) rotate(-90)" x="-51.4" textLength="51.4" lengthAdjust="spacingAndGlyphs">Decordova 2</text>
<text class="xl" transform="translate(528.96 481.2) rotate(-90)" x="-62.5" textLength="62.5" lengthAdjust="spacingAndGlyphs">Azure Sky Solar</text>
<text class="xl" transform="translate(540.90 481.2) rotate(-90)" x="-39.9" textLength="39.9" lengthAdjust="spacingAndGlyphs">Rabbit Hill</text>
<text class="xl" transform="translate(552.83 481.2) rotate(-90)" x="-31.7" textLength="31.7" lengthAdjust="spacingAndGlyphs">Notrees</text>
<text class="xl" transform="translate(564.77 481.2) rotate(-90)" x="-48.0" textLength="48.0" lengthAdjust="spacingAndGlyphs">Silicon Hill 2</text>
<text class="xl" transform="translate(576.70 481.2) rotate(-90)" x="-52.6" textLength="52.6" lengthAdjust="spacingAndGlyphs">Decordova 3</text>
<text class="xl" transform="translate(588.64 481.2) rotate(-90)" x="-42.2" textLength="42.2" lengthAdjust="spacingAndGlyphs">North Fork</text>
<text class="xl" transform="translate(600.57 481.2) rotate(-90)" x="-64.2" textLength="64.2" lengthAdjust="spacingAndGlyphs">North Columbia</text>
<text class="xl" transform="translate(612.51 481.2) rotate(-90)" x="-59.5" textLength="59.5" lengthAdjust="spacingAndGlyphs">Zapata 1 (DGR)</text>
<text class="xl" transform="translate(624.44 481.2) rotate(-90)" x="-58.4" textLength="58.4" lengthAdjust="spacingAndGlyphs">Republic Road</text>
<text class="xl" transform="translate(636.38 481.2) rotate(-90)" x="-35.7" textLength="35.7" lengthAdjust="spacingAndGlyphs">Lonestar</text>
<text class="xl" transform="translate(648.31 481.2) rotate(-90)" x="-52.1" textLength="52.1" lengthAdjust="spacingAndGlyphs">Decordova 4</text>
<text class="xl" transform="translate(660.25 481.2) rotate(-90)" x="-72.3" textLength="72.3" lengthAdjust="spacingAndGlyphs">Crossett Power 1*</text>
<text class="xl" transform="translate(672.18 481.2) rotate(-90)" x="-28.7" textLength="28.7" lengthAdjust="spacingAndGlyphs">Inadale</text>
<text class="xl" transform="translate(684.12 481.2) rotate(-90)" x="-67.6" textLength="67.6" lengthAdjust="spacingAndGlyphs">Cedarvale (DGR)</text>
<text class="xl" transform="translate(696.05 481.2) rotate(-90)" x="-72.3" textLength="72.3" lengthAdjust="spacingAndGlyphs">Screwbean (DGR)</text>
<text class="xl" transform="translate(707.99 481.2) rotate(-90)" x="-45.6" textLength="45.6" lengthAdjust="spacingAndGlyphs">Silicon Hill 1</text>
<text class="xl" transform="translate(719.92 481.2) rotate(-90)" x="-74.1" textLength="74.1" lengthAdjust="spacingAndGlyphs">Rattlesnake (DGR)</text>
<text class="xl" transform="translate(731.86 481.2) rotate(-90)" x="-22.5" textLength="22.5" lengthAdjust="spacingAndGlyphs">Pyron</text>
<text class="xl" transform="translate(743.79 481.2) rotate(-90)" x="-46.3" textLength="46.3" lengthAdjust="spacingAndGlyphs">Bryd Ranch</text>
<text class="xl" transform="translate(755.73 481.2) rotate(-90)" x="-74.1" textLength="74.1" lengthAdjust="spacingAndGlyphs">Saddleback (DGR)</text>
<text class="xl" transform="translate(767.66 481.2) rotate(-90)" x="-60.7" textLength="60.7" lengthAdjust="spacingAndGlyphs">Faulkner (DGR)</text>
<text class="xl" transform="translate(779.60 481.2) rotate(-90)" x="-110.5" textLength="110.5" lengthAdjust="spacingAndGlyphs">Toyah Power Station (DGR)</text>
<text class="xl" transform="translate(791.53 481.2) rotate(-90)" x="-60.7" textLength="60.7" lengthAdjust="spacingAndGlyphs">Catarina (DGR)</text>
<text class="xl" transform="translate(803.47 481.2) rotate(-90)" x="-39.9" textLength="39.9" lengthAdjust="spacingAndGlyphs">SP TX-12B</text>
<text class="xl" transform="translate(815.40 481.2) rotate(-90)" x="-55.6" textLength="55.6" lengthAdjust="spacingAndGlyphs">Gomez (DGR)</text>
<text class="xl" transform="translate(827.34 481.2) rotate(-90)" x="-22.5" textLength="22.5" lengthAdjust="spacingAndGlyphs">Olney</text>
<text class="xl" transform="translate(839.27 481.2) rotate(-90)" x="-64.2" textLength="64.2" lengthAdjust="spacingAndGlyphs">Holcomb (DGR)</text>
<text class="xl" transform="translate(851.21 481.2) rotate(-90)" x="-28.3" textLength="28.3" lengthAdjust="spacingAndGlyphs">Noble 1</text>
<text class="xl" transform="translate(863.14 481.2) rotate(-90)" x="-63.0" textLength="63.0" lengthAdjust="spacingAndGlyphs">Coyote Springs</text>
<text class="xl" transform="translate(875.08 481.2) rotate(-90)" x="-30.6" textLength="30.6" lengthAdjust="spacingAndGlyphs">Noble 2</text>
<text class="xl" transform="translate(887.01 481.2) rotate(-90)" x="-75.0" textLength="75.0" lengthAdjust="spacingAndGlyphs">Port Lavaca (DGR)</text>
<text class="xl" transform="translate(898.95 481.2) rotate(-90)" x="-63.0" textLength="63.0" lengthAdjust="spacingAndGlyphs">High Lonesome</text>
<text class="xl" transform="translate(910.88 481.2) rotate(-90)" x="-83.8" textLength="83.8" lengthAdjust="spacingAndGlyphs">Roadrunner (Queen)</text>
<text class="xl" transform="translate(922.82 481.2) rotate(-90)" x="-37.5" textLength="37.5" lengthAdjust="spacingAndGlyphs">Roseland</text>
<text class="xl" transform="translate(934.75 481.2) rotate(-90)" x="-27.1" textLength="27.1" lengthAdjust="spacingAndGlyphs">Eunice</text>
<text class="xl" transform="translate(946.69 481.2) rotate(-90)" x="-33.4" textLength="33.4" lengthAdjust="spacingAndGlyphs">Blue Jay</text>
<text class="xl" transform="translate(958.62 481.2) rotate(-90)" x="-39.9" textLength="39.9" lengthAdjust="spacingAndGlyphs">Wolf Tank</text>
<text class="xl" transform="translate(970.56 481.2) rotate(-90)" x="-70.4" textLength="70.4" lengthAdjust="spacingAndGlyphs">Worsham (DGR)*</text>
<text class="xl" transform="translate(982.49 481.2) rotate(-90)" x="-64.2" textLength="64.2" lengthAdjust="spacingAndGlyphs">Prospect (DGR)</text>
<text class="xl" transform="translate(994.43 481.2) rotate(-90)" x="-64.2" textLength="64.2" lengthAdjust="spacingAndGlyphs">Flat Top (DGR)*</text>
<text class="xl" transform="translate(1006.36 481.2) rotate(-90)" x="-83.8" textLength="83.8" lengthAdjust="spacingAndGlyphs">Commerce St (DGR)</text>
<text class="xl" transform="translate(1018.30 481.2) rotate(-90)" x="-74.1" textLength="74.1" lengthAdjust="spacingAndGlyphs">Hoefs Road (DGR)</text>
<text class="xl" transform="translate(1030.23 481.2) rotate(-90)" x="-35.7" textLength="35.7" lengthAdjust="spacingAndGlyphs">Pyron 2B</text>
<text class="xl" transform="translate(1042.16 481.2) rotate(-90)" x="-36.4" textLength="36.4" lengthAdjust="spacingAndGlyphs">Pyron 2A</text>
<polygon points="228.30,547.90 229.42,550.96 232.67,551.08 230.11,553.09 231.00,556.22 228.30,554.40 225.60,556.22 226.49,553.09 223.93,551.08 227.18,550.96" fill="#c9102a" stroke="#1b2460" stroke-width="0.9" stroke-linejoin="miter"/>
<polygon points="240.10,559.60 241.22,562.66 244.47,562.78 241.91,564.79 242.80,567.92 240.10,566.10 237.40,567.92 238.29,564.79 235.73,562.78 238.98,562.66" fill="#c9102a" stroke="#1b2460" stroke-width="0.9" stroke-linejoin="miter"/>
<polygon points="252.40,549.90 253.52,552.96 256.77,553.08 254.21,555.09 255.10,558.22 252.40,556.40 249.70,558.22 250.59,555.09 248.03,553.08 251.28,552.96" fill="#c9102a" stroke="#1b2460" stroke-width="0.9" stroke-linejoin="miter"/>
<polygon points="275.50,555.70 276.62,558.76 279.87,558.88 277.31,560.89 278.20,564.02 275.50,562.20 272.80,564.02 273.69,560.89 271.13,558.88 274.38,558.76" fill="#c9102a" stroke="#1b2460" stroke-width="0.9" stroke-linejoin="miter"/>
<polygon points="288.30,546.90 289.42,549.96 292.67,550.08 290.11,552.09 291.00,555.22 288.30,553.40 285.60,555.22 286.49,552.09 283.93,550.08 287.18,549.96" fill="#c9102a" stroke="#1b2460" stroke-width="0.9" stroke-linejoin="miter"/>
<polygon points="346.70,544.20 347.82,547.26 351.07,547.38 348.51,549.39 349.40,552.52 346.70,550.70 344.00,552.52 344.89,549.39 342.33,547.38 345.58,547.26" fill="#c9102a" stroke="#1b2460" stroke-width="0.9" stroke-linejoin="miter"/>
<polygon points="394.40,550.00 395.52,553.06 398.77,553.18 396.21,555.19 397.10,558.32 394.40,556.50 391.70,558.32 392.59,555.19 390.03,553.18 393.28,553.06" fill="#c9102a" stroke="#1b2460" stroke-width="0.9" stroke-linejoin="miter"/>
<polygon points="406.60,542.40 407.72,545.46 410.97,545.58 408.41,547.59 409.30,550.72 406.60,548.90 403.90,550.72 404.79,547.59 402.23,545.58 405.48,545.46" fill="#c9102a" stroke="#1b2460" stroke-width="0.9" stroke-linejoin="miter"/>
<polygon points="419.20,550.50 420.32,553.56 423.57,553.68 421.01,555.69 421.90,558.82 419.20,557.00 416.50,558.82 417.39,555.69 414.83,553.68 418.08,553.56" fill="#c9102a" stroke="#1b2460" stroke-width="0.9" stroke-linejoin="miter"/>
<text class="src" y="618.2" ><tspan x="22.38" textLength="52.73" lengthAdjust="spacingAndGlyphs">Source:</tspan> <tspan x="78.19" textLength="40.39" lengthAdjust="spacingAndGlyphs">Modo</tspan> <tspan x="121.77" textLength="48.23" lengthAdjust="spacingAndGlyphs">Energy</tspan></text>
<text class="src" y="636.7" ><tspan x="21.71" textLength="45.95" lengthAdjust="spacingAndGlyphs">Notes:</tspan> <tspan x="71.38" textLength="58.64" lengthAdjust="spacingAndGlyphs">Systems</tspan> <tspan x="134.78" textLength="27.23" lengthAdjust="spacingAndGlyphs">that</tspan> <tspan x="167.38" textLength="22.02" lengthAdjust="spacingAndGlyphs">are</tspan> <tspan x="193.88" textLength="33.20" lengthAdjust="spacingAndGlyphs">&gt;1.5h</tspan> <tspan x="231.14" textLength="11.00" lengthAdjust="spacingAndGlyphs">in</tspan> <tspan x="246.32" textLength="61.00" lengthAdjust="spacingAndGlyphs">duration</tspan> <tspan x="310.60" textLength="23.08" lengthAdjust="spacingAndGlyphs">are</tspan> <tspan x="337.06" textLength="51.41" lengthAdjust="spacingAndGlyphs">marked</tspan> <tspan x="393.11" textLength="29.17" lengthAdjust="spacingAndGlyphs">with</tspan> <tspan x="425.60" textLength="17.92" lengthAdjust="spacingAndGlyphs">an</tspan> <tspan x="447.27" textLength="6.67" lengthAdjust="spacingAndGlyphs">*</tspan></text>
<text class="logo" transform="scale(0.9 1)" y="622.8" x="915.14 944.01 969.03 994.62 1021.24 1043.99 1069.24 1091.00 1116.77 1140.59">MODOENERGY</text>
<path d="M895.5 582.5 V596.2 H1030" fill="none" stroke="#b8b8b8" stroke-width="1"/>
<path d="M895.5 582.5 H1030 V596.2" fill="none" stroke="#e4e4e4" stroke-width="1"/>
<filter id="emb2" x="-3%" y="-20%" width="106%" height="140%" color-interpolation-filters="sRGB"><feOffset in="SourceAlpha" dx="0.6" dy="0.6" result="o1"/><feComposite in="o1" in2="SourceAlpha" operator="out" result="sh"/><feFlood flood-color="#ababab" result="fg"/><feComposite in="fg" in2="sh" operator="in" result="shc"/><feFlood flood-color="#ffffff" flood-opacity="0.6" result="ff"/><feComposite in="ff" in2="SourceAlpha" operator="in" result="fill"/><feMerge><feMergeNode in="fill"/><feMergeNode in="shc"/></feMerge></filter>
<text class="wm" x="900.5" y="593.6" font-size="10.5" font-weight="500" fill="#fff" filter="url(#emb2)" textLength="126" lengthAdjust="spacing">深度关注新能源经济与产业</text>
<filter id="emb" x="-3%" y="-10%" width="106%" height="125%" color-interpolation-filters="sRGB"><feOffset in="SourceAlpha" dx="-0.7" dy="-0.7" result="d1"/><feComposite in="d1" in2="SourceAlpha" operator="out" result="ol"/><feFlood flood-color="#d6d6d6" result="fo"/><feComposite in="fo" in2="ol" operator="in" result="olc"/><feOffset in="SourceAlpha" dx="0.7" dy="0.7" result="o1"/><feComposite in="o1" in2="SourceAlpha" operator="out" result="sh"/><feFlood flood-color="#b2b2b2" result="fg"/><feComposite in="fg" in2="sh" operator="in" result="shc"/><feFlood flood-color="#ffffff" flood-opacity="0.22" result="ff"/><feComposite in="ff" in2="SourceAlpha" operator="in" result="fill"/><feMerge><feMergeNode in="fill"/><feMergeNode in="olc"/><feMergeNode in="shc"/></feMerge></filter>
<g transform="translate(846.5 636.2) skewX(-4)" filter="url(#emb)">
<text class="wm" x="0" y="0" font-size="42" font-weight="500" fill="#ffffff" textLength="225" lengthAdjust="spacingAndGlyphs">世纪新能源网</text>
</g>
<text class="wms" x="886.5" y="650.3" textLength="148" lengthAdjust="spacingAndGlyphs">Century new energy network</text>
</svg>
</div></body></html>
